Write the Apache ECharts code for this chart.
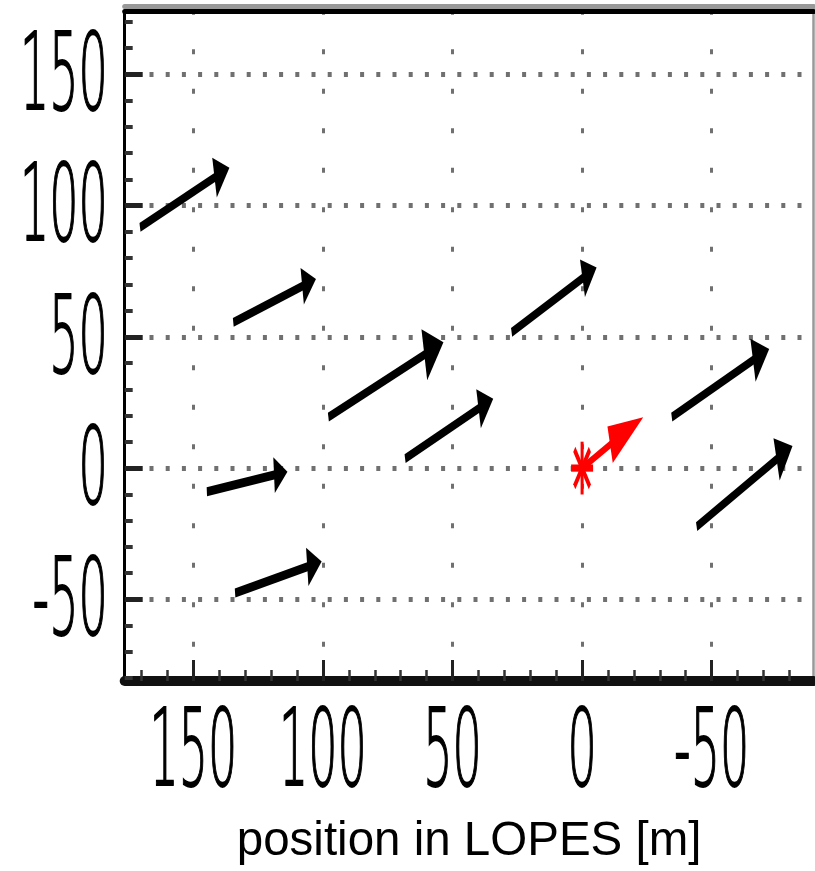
<!DOCTYPE html>
<html>
<head>
<meta charset="utf-8">
<script src="https://cdn.jsdelivr.net/npm/echarts@6/dist/echarts.min.js"></script>
<style>
  html, body { margin: 0; padding: 0; background: #fff; }
  #chart { width: 815px; height: 871px; }
</style>
</head>
<body>
<div id="chart"></div>
<script>
// Axis extents in metres (x runs right-to-left)
const xRange = [-89.3, 176.5];
const yRange = [-81.1, 174.1];

// Labelled ticks and the finer 10 m ticks
const majorTicks = [-50, 0, 50, 100, 150];
const tickLabels = ['-50', '0', '50', '100', '150'];
const minorTicks = [-80, -70, -60, -40, -30, -20, -10, 10, 20, 30, 40, 60, 70, 80, 90,
                    110, 120, 130, 140, 160, 170];

// Antenna arrows: start point and arrow tip (m)
const tailX = [170.6, 134.6, 97.9, 68.3, 144.8, 133.9, 27.2, -34.6, -44.2];
const tailY = [91.7, 55.5, 19.4, 3.6, -9.0, -47.6, 51.7, 19.4, -22.3];
const headX = [136.1, 102.7, 53.5, 34.3, 113.7, 100.5, -5.6, -72.2, -81.2];
const headY = [114.4, 72.0, 47.9, 26.4, -1.4, -35.6, 76.4, 45.4, 8.4];

// Shower core and its arrow
const coreX = [0];
const coreY = [0];
const coreHeadX = [-23.6];
const coreHeadY = [19.4];

const axisTitle = 'position in LOPES [m]';

// The figure is drawn with a tall aspect: shapes are built in a squashed
// frame and then stretched vertically.
const STRETCH = 2.4;
const LABEL_STRETCH = 2.33;
const LABEL_FONT = '200 46px "DejaVu Sans"';

function arrowRenderer(headLen, halfAngleDeg, lineW, color) {
  return function (params, api) {
    const a = api.coord([api.value(0), api.value(1)]);
    const b = api.coord([api.value(2), api.value(3)]);
    const ax = a[0], ay = a[1] / STRETCH, bx = b[0], by = b[1] / STRETCH;
    const dx = bx - ax, dy = by - ay;
    const len = Math.hypot(dx, dy);
    const ux = dx / len, uy = dy / len;
    const h = headLen(len);
    const t = halfAngleDeg * Math.PI / 180;
    const c = Math.cos(t), s = Math.sin(t);
    const p1 = [bx + h * (-ux * c + uy * s), by + h * (-uy * c - ux * s)];
    const p2 = [bx + h * (-ux * c - uy * s), by + h * (-uy * c + ux * s)];
    const endX = bx - ux * h * c * 0.7, endY = by - uy * h * c * 0.7;
    return {
      type: 'group',
      scaleY: STRETCH,
      children: [
        { type: 'line', shape: { x1: ax, y1: ay, x2: endX, y2: endY },
          style: { stroke: color, lineWidth: lineW } },
        { type: 'polygon', shape: { points: [[bx, by], p1, p2] },
          style: { fill: color } }
      ]
    };
  };
}

function starRenderer(radius, lineW, color) {
  return function (params, api) {
    const p = api.coord([api.value(0), api.value(1)]);
    const cx = p[0], cy = p[1] / STRETCH;
    const children = [0, 45, 90, 135].map(function (deg) {
      const r = deg * Math.PI / 180;
      const ex = Math.cos(r) * radius, ey = Math.sin(r) * radius;
      return { type: 'line', shape: { x1: cx - ex, y1: cy - ey, x2: cx + ex, y2: cy + ey },
               style: { stroke: color, lineWidth: lineW } };
    });
    return { type: 'group', scaleY: STRETCH, children: children };
  };
}

function tickText(label, align) {
  return { text: label, font: LABEL_FONT, fill: '#000', stroke: '#000', lineWidth: 0.8,
           align: align, verticalAlign: 'middle' };
}

const chart = echarts.init(document.getElementById('chart'), null, { renderer: 'canvas' });

const dotted = function (dash, gap, width, offset) {
  return { color: '#707070', width: width, type: [dash, gap], dashOffset: offset };
};

chart.setOption({
  animation: false,
  backgroundColor: '#fff',
  grid: { left: 124.7, right: 1.5, top: 11, bottom: 188, containLabel: false },
  xAxis: [
    {
      type: 'value', position: 'bottom', inverse: true,
      min: xRange[0], max: xRange[1],
      axisLine: { show: true, onZero: false, lineStyle: { color: '#111', width: 10 } },
      axisTick: { show: true, inside: true, length: 21, customValues: majorTicks,
                  lineStyle: { color: '#222', width: 3 } },
      axisLabel: { show: false },
      splitLine: { show: true, lineStyle: dotted(5, 34.5, 3, 1.3) },
      name: axisTitle, nameLocation: 'middle', nameGap: 161,
      nameTextStyle: { fontFamily: '"Liberation Sans", Arial, sans-serif', fontSize: 47.5,
                       color: '#000', verticalAlign: 'middle' }
    },
    {
      type: 'value', position: 'bottom', inverse: true,
      min: xRange[0], max: xRange[1],
      axisLine: { show: false, onZero: false },
      axisTick: { show: true, inside: true, length: 11, customValues: minorTicks,
                  lineStyle: { color: '#333', width: 2.5 } },
      axisLabel: { show: false },
      splitLine: { show: false }
    },
    {
      type: 'value', position: 'top', inverse: true,
      min: xRange[0], max: xRange[1],
      axisLine: { show: true, onZero: false, lineStyle: { color: '#000', width: 5 } },
      axisTick: { show: false }, axisLabel: { show: false }, splitLine: { show: false }
    },
    {
      type: 'value', position: 'top', offset: 5, inverse: true,
      min: xRange[0], max: xRange[1],
      axisLine: { show: true, onZero: false, lineStyle: { color: '#999', width: 5 } },
      axisTick: { show: false }, axisLabel: { show: false }, splitLine: { show: false }
    }
  ],
  yAxis: [
    {
      type: 'value', position: 'left',
      min: yRange[0], max: yRange[1],
      axisLine: { show: true, onZero: false, lineStyle: { color: '#000', width: 3 } },
      axisTick: { show: true, inside: true, length: 18, customValues: majorTicks,
                  lineStyle: { color: '#222', width: 5 } },
      axisLabel: { show: false },
      splitLine: { show: true, lineStyle: dotted(4, 12.2, 5, 7.6) }
    },
    {
      type: 'value', position: 'left',
      min: yRange[0], max: yRange[1],
      axisLine: { show: false, onZero: false },
      axisTick: { show: true, inside: true, length: 8, customValues: minorTicks,
                  lineStyle: { color: '#333', width: 4 } },
      axisLabel: { show: false },
      splitLine: { show: false }
    },
    {
      type: 'value', position: 'right',
      min: yRange[0], max: yRange[1],
      axisLine: { show: true, onZero: false, lineStyle: { color: '#999', width: 2.5 } },
      axisTick: { show: false }, axisLabel: { show: false }, splitLine: { show: false }
    }
  ],
  series: [
    {
      name: 'antennas', type: 'custom', coordinateSystem: 'cartesian2d',
      xAxisIndex: 0, yAxisIndex: 0, clip: false, silent: true,
      data: tailX.map(function (x, i) { return [x, tailY[i], headX[i], headY[i]]; }),
      encode: { x: [0, 2], y: [1, 3] },
      renderItem: arrowRenderer(function (len) { return 0.19 * len; }, 29, 3.8, '#000')
    },
    {
      name: 'core direction', type: 'custom', coordinateSystem: 'cartesian2d',
      xAxisIndex: 0, yAxisIndex: 0, clip: false, silent: true,
      data: coreX.map(function (x, i) { return [x, coreY[i], coreHeadX[i], coreHeadY[i]]; }),
      encode: { x: [0, 2], y: [1, 3] },
      renderItem: arrowRenderer(function () { return 36; }, 13, 3.2, '#ff0000')
    },
    {
      name: 'core', type: 'custom', coordinateSystem: 'cartesian2d',
      xAxisIndex: 0, yAxisIndex: 0, clip: false, silent: true,
      data: coreX.map(function (x, i) { return [x, coreY[i]]; }),
      renderItem: starRenderer(11, 3, '#ff0000')
    },
    {
      name: 'x tick labels', type: 'custom', coordinateSystem: 'cartesian2d',
      xAxisIndex: 0, yAxisIndex: 0, clip: false, silent: true,
      data: majorTicks.map(function (v) { return [v, yRange[0]]; }),
      renderItem: function (params, api) {
        const p = api.coord([api.value(0), api.value(1)]);
        return { type: 'text', x: p[0], y: p[1] + 76, scaleY: LABEL_STRETCH,
                 style: tickText(tickLabels[params.dataIndex], 'center') };
      }
    },
    {
      name: 'y tick labels', type: 'custom', coordinateSystem: 'cartesian2d',
      xAxisIndex: 0, yAxisIndex: 0, clip: false, silent: true,
      data: majorTicks.map(function (v) { return [xRange[1], v]; }),
      renderItem: function (params, api) {
        const p = api.coord([api.value(0), api.value(1)]);
        return { type: 'text', x: p[0] - 17, y: p[1] + 7, scaleY: LABEL_STRETCH,
                 style: tickText(tickLabels[params.dataIndex], 'right') };
      }
    }
  ]
});
</script>
</body>
</html>
